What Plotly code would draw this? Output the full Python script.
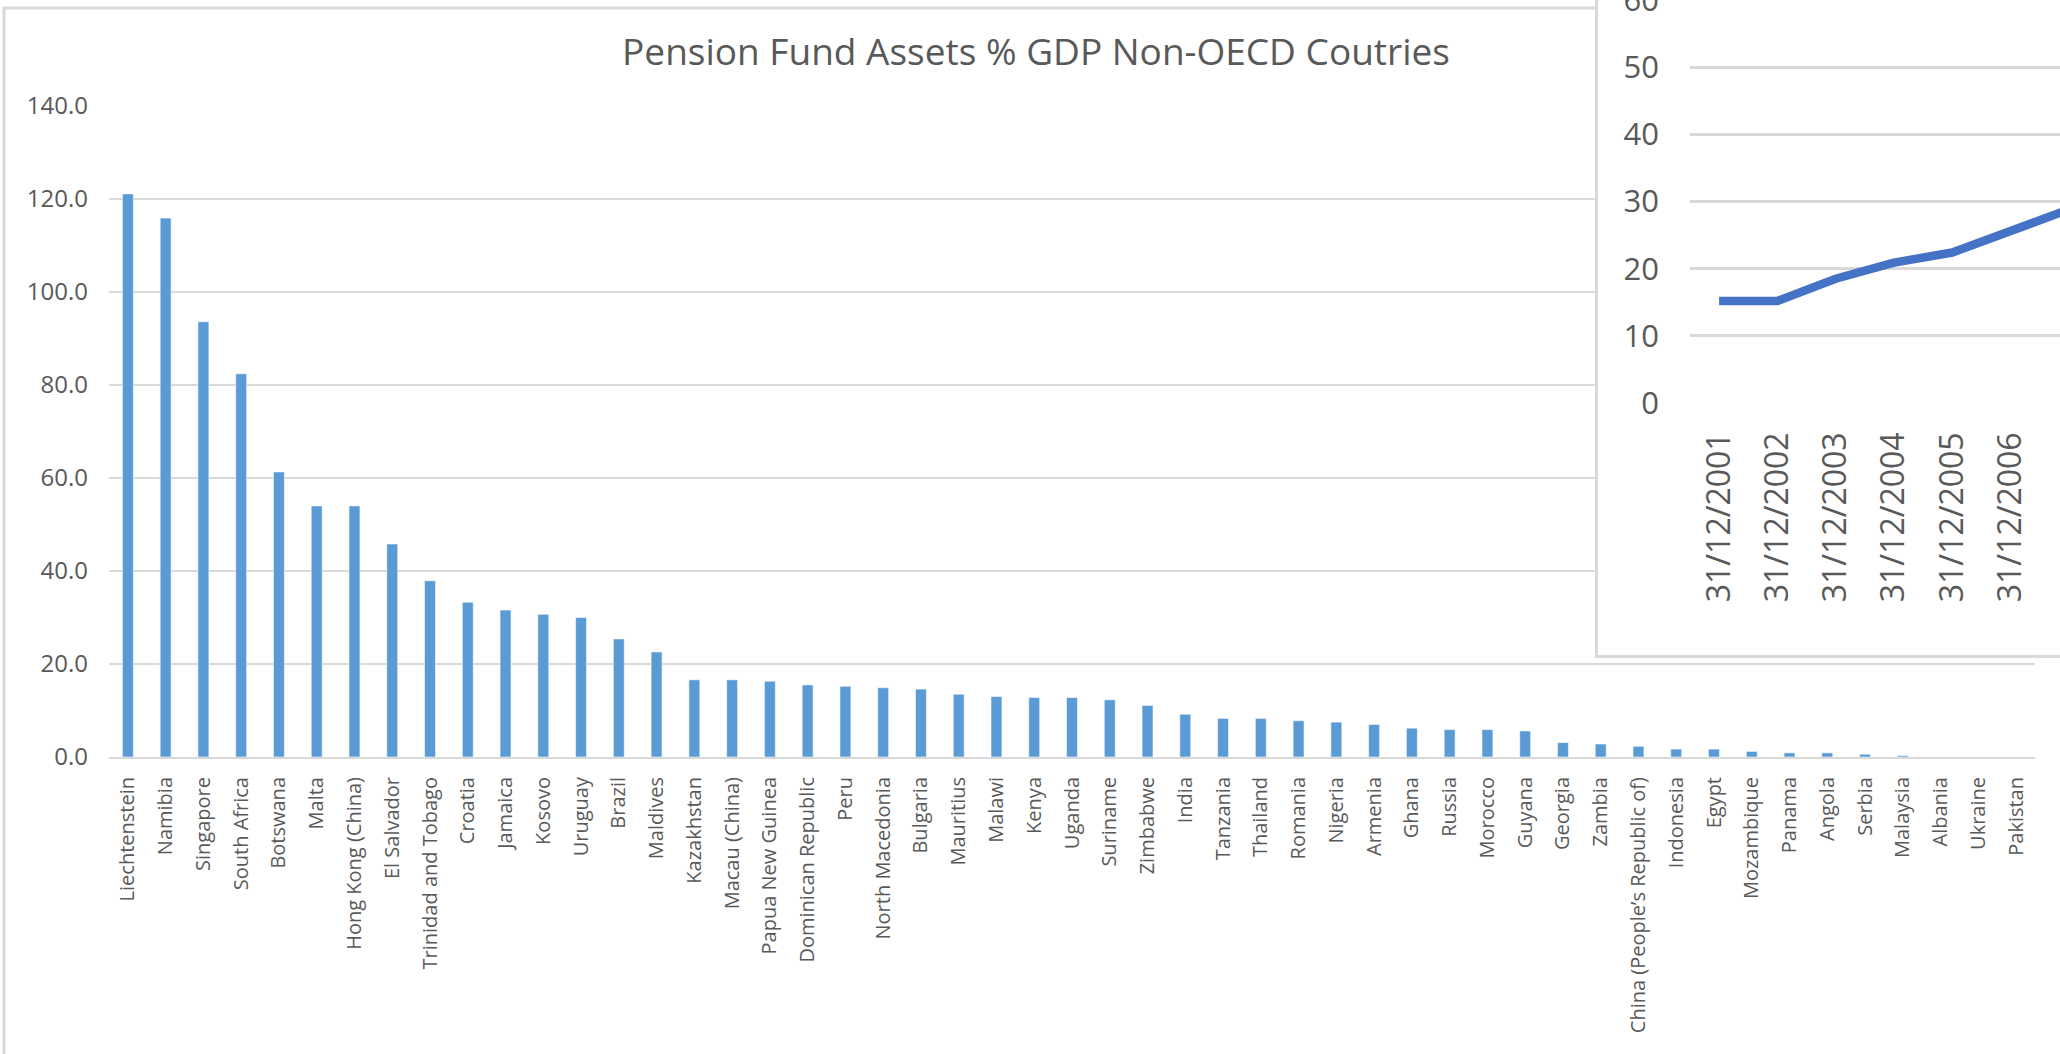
import plotly.graph_objects as go

# ---- Pension fund assets as % of GDP, non-OECD countries ----
countries = [
    "Liechtenstein", "Namibia", "Singapore", "South Africa", "Botswana", "Malta",
    "Hong Kong (China)", "El Salvador", "Trinidad and Tobago", "Croatia", "Jamaica",
    "Kosovo", "Uruguay", "Brazil", "Maldives", "Kazakhstan", "Macau (China)",
    "Papua New Guinea", "Dominican Republic", "Peru", "North Macedonia", "Bulgaria",
    "Mauritius", "Malawi", "Kenya", "Uganda", "Suriname", "Zimbabwe", "India",
    "Tanzania", "Thailand", "Romania", "Nigeria", "Armenia", "Ghana", "Russia",
    "Morocco", "Guyana", "Georgia", "Zambia", "China (People’s Republic of)",
    "Indonesia", "Egypt", "Mozambique", "Panama", "Angola", "Serbia", "Malaysia",
    "Albania", "Ukraine", "Pakistan",
]
assets_pct_gdp = [
    121.1, 115.9, 93.6, 82.4, 61.3, 54.0,
    54.0, 45.8, 37.9, 33.3, 31.6,
    30.7, 30.0, 25.4, 22.6, 16.6, 16.6,
    16.3, 15.5, 15.2, 14.9, 14.6,
    13.5, 13.0, 12.8, 12.8, 12.3, 11.1, 9.2,
    8.3, 8.3, 7.8, 7.5, 7.0, 6.2, 5.9,
    5.9, 5.6, 3.1, 2.8, 2.3,
    1.7, 1.7, 1.2, 0.9, 0.9, 0.6, 0.3,
    0.0, 0.0, 0.0,
]
main_ticks = [0, 20, 40, 60, 80, 100, 120, 140]
chart_title = "Pension Fund Assets % GDP Non-OECD Coutries"

# ---- Time series shown in the overlaid panel ----
dates = ["31/12/2001", "31/12/2002", "31/12/2003", "31/12/2004",
         "31/12/2005", "31/12/2006", "31/12/2007"]
series_values = [15.2, 15.2, 18.5, 20.9, 22.4, 25.6, 28.8]
inset_ticks = [0, 10, 20, 30, 40, 50, 60]

W, H = 2060, 1054
FONT = "Open Sans"
TXT = "#595959"
GRID = "#D9D9D9"


def px_x(v):
    return v / W


def px_y(v):
    return 1 - v / H


fig = go.Figure()

fig.add_trace(go.Bar(
    x=countries, y=assets_pct_gdp,
    marker=dict(color="#5B9BD5", line=dict(color="rgba(255,255,255,0.55)", width=1)),
    xaxis="x", yaxis="y", hoverinfo="x+y",
))

# blank panel that forms the white card behind the line chart
fig.add_trace(go.Scatter(x=[], y=[], xaxis="x2", yaxis="y2",
                         showlegend=False, hoverinfo="skip"))

fig.add_trace(go.Scatter(
    x=dates, y=series_values, mode="lines",
    line=dict(color="#4472C4", width=8.5),
    xaxis="x3", yaxis="y3",
))

fig.update_layout(
    width=W, height=H,
    margin=dict(l=0, r=0, t=0, b=0, autoexpand=False),
    paper_bgcolor="white", plot_bgcolor="white",
    showlegend=False, bargap=0.71,
    font=dict(family=FONT, color=TXT),
    title=dict(text=chart_title, x=px_x(1036), y=px_y(52),
               xanchor="center", yanchor="middle", automargin=False,
               font=dict(family=FONT, size=37, color=TXT)),
    xaxis=dict(
        domain=[px_x(109), px_x(2035)], anchor="y", automargin=False,
        type="category", tickangle=-90, ticks="",
        tickfont=dict(size=20, color=TXT),
        showline=True, linecolor=GRID, linewidth=2,
        showgrid=False, zeroline=False, ticklabelstandoff=10,
    ),
    yaxis=dict(
        domain=[px_y(757), px_y(106)], anchor="x", automargin=False,
        range=[0, 140], tickvals=main_ticks, tickformat=".1f",
        tickfont=dict(size=24, color=TXT), ticks="",
        showgrid=True, gridcolor=GRID, gridwidth=1.6,
        zeroline=False, showline=False, ticklabelstandoff=20,
    ),
    xaxis2=dict(
        domain=[px_x(1598), 1], anchor="y2", range=[0, 1], automargin=False,
        showgrid=False, zeroline=False, showticklabels=False, ticks="",
        showline=True, linecolor=GRID, linewidth=3,
    ),
    yaxis2=dict(
        domain=[px_y(655), 1], anchor="x2", range=[0, 1], automargin=False,
        showgrid=False, zeroline=False, showticklabels=False, ticks="",
        showline=True, linecolor=GRID, linewidth=3,
    ),
    xaxis3=dict(
        domain=[px_x(1690), 1], anchor="y3", automargin=False,
        type="category", range=[-0.5, 5.85],
        tickangle=-90, ticks="", tickfont=dict(size=32, color=TXT),
        showgrid=False, zeroline=False, showline=False, ticklabelstandoff=22,
    ),
    yaxis3=dict(
        domain=[px_y(403), 1], anchor="x3", automargin=False,
        range=[0, 60], tickvals=inset_ticks, ticklabeloverflow="allow",
        tickfont=dict(size=31, color=TXT), ticks="",
        showgrid=True, gridcolor=GRID, gridwidth=2.5,
        zeroline=False, showline=False, ticklabelstandoff=30,
    ),
    shapes=[
        # outer frame of the bar chart
        dict(type="rect", xref="paper", yref="paper", layer="below",
             x0=px_x(4), x1=1.05, y0=-0.05, y1=px_y(8),
             line=dict(color=GRID, width=3), fillcolor="rgba(0,0,0,0)"),
    ],
)

fig.write_html("out.html")
